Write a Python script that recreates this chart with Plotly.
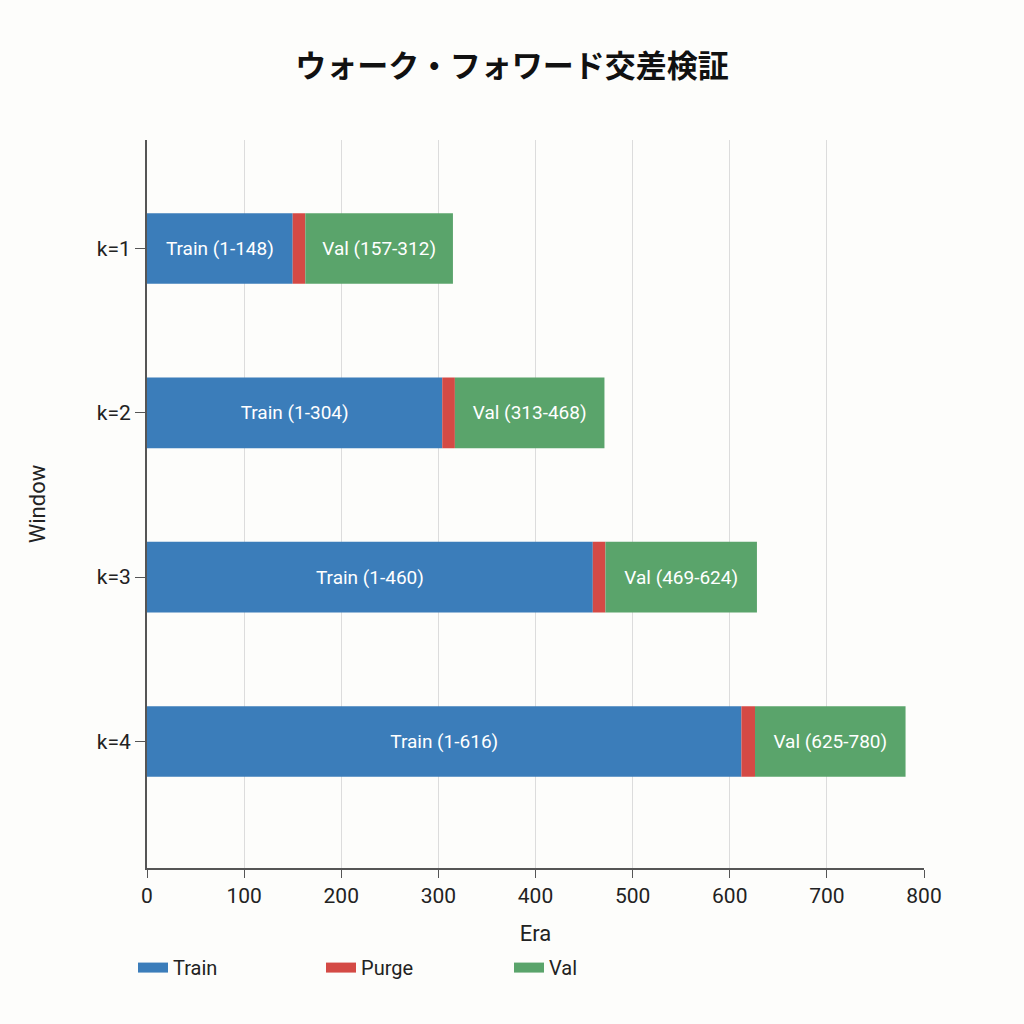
import plotly.graph_objects as go

windows = ["k=1", "k=2", "k=3", "k=4"]
# bar extents (era units)
train_end = [150, 304, 459, 612]
purge_end = [163, 317, 472, 626]
val_end = [315, 471, 628, 781]
# segment labels
train_labels = ["Train (1-148)", "Train (1-304)", "Train (1-460)", "Train (1-616)"]
val_labels = ["Val (157-312)", "Val (313-468)", "Val (469-624)", "Val (625-780)"]
legend_names = ["Train", "Purge", "Val"]

c_train = "#3b7dba"
c_purge = "#d44a45"
c_val = "#5aa46b"
colors = [c_train, c_purge, c_val]

font_fam = "Roboto, 'Noto Sans CJK JP', sans-serif"

fig = go.Figure()
fig.add_trace(go.Bar(
    y=windows, x=train_end, base=[0] * 4, orientation="h", name="Train",
    marker=dict(color=c_train, line=dict(width=0)), showlegend=False,
    text=train_labels, textposition="inside", insidetextanchor="middle",
    textfont=dict(color="white", size=19, family=font_fam),
))
fig.add_trace(go.Bar(
    y=windows, x=[p - t for p, t in zip(purge_end, train_end)], base=train_end,
    orientation="h", name="Purge", showlegend=False,
    marker=dict(color=c_purge, line=dict(width=0)),
    textposition="none",
))
fig.add_trace(go.Bar(
    y=windows, x=[v - p for v, p in zip(val_end, purge_end)], base=purge_end,
    orientation="h", name="Val", showlegend=False,
    marker=dict(color=c_val, line=dict(width=0)),
    text=val_labels, textposition="inside", insidetextanchor="middle",
    textfont=dict(color="white", size=19, family=font_fam),
))
# legend entries with wide swatches
for nm, col in zip(legend_names, colors):
    fig.add_trace(go.Scatter(
        x=[None], y=[None], mode="lines", name=nm,
        line=dict(color=col, width=14), hoverinfo="skip",
    ))

fig.update_layout(
    width=1024, height=1024,
    margin=dict(l=147, r=100, t=140, b=156),
    paper_bgcolor="#fdfdfb", plot_bgcolor="#fdfdfb",
    barmode="overlay", bargap=0.57,
    font=dict(family=font_fam, size=20, color="#222222"),
    title=dict(text="<b>ウォーク・フォワード交差検証</b>", x=0.5, xanchor="center", y=0.935, yanchor="middle",
               font=dict(family="'Noto Sans CJK JP', sans-serif", size=31, color="#111111")),
    xaxis=dict(range=[0, 800], dtick=100, showgrid=True, gridcolor="#dcdcdc", gridwidth=1,
               showline=True, linecolor="#555555", linewidth=2, ticks="outside", ticklen=8,
               tickcolor="#555555", zeroline=False,
               title=dict(text="Era", standoff=18, font=dict(size=22)),
               tickfont=dict(size=21)),
    yaxis=dict(autorange=False, range=[3.77, -0.66], showgrid=False,
               showline=True, linecolor="#555555", linewidth=2, ticks="outside", ticklen=10,
               tickcolor="#555555",
               title=dict(text="Window", standoff=45, font=dict(size=22)),
               tickfont=dict(size=21)),
    legend=dict(orientation="h", x=-0.018, xanchor="left", y=-0.11, yanchor="top",
                entrywidth=143, entrywidthmode="pixels", font=dict(size=20),
                bgcolor="rgba(0,0,0,0)", traceorder="normal"),
)

fig.write_html("out.html")
